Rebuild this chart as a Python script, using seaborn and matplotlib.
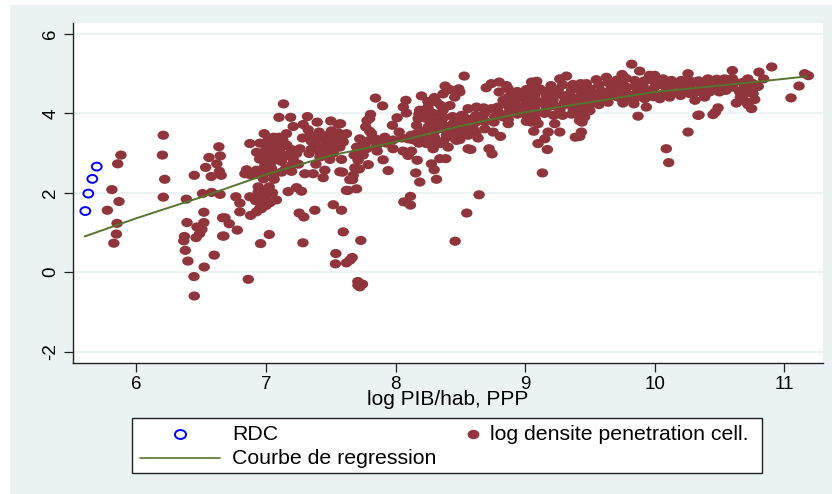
import matplotlib
matplotlib.use('Agg')
import matplotlib.pyplot as plt
import pandas as pd
import seaborn as sns
from matplotlib.lines import Line2D
from matplotlib.patches import Rectangle
from matplotlib.path import Path
from matplotlib.transforms import Affine2D

# points, (log PIB/hab, log densite)
rdc_points = [(5.605, 1.54), (5.628, 1.98), (5.659, 2.35), (5.693, 2.66)]

cell_low = [
    (5.88, 2.95), (5.855, 2.73), (5.81, 2.08), (5.865, 1.78), (5.775, 1.56), (5.85, 1.23), (5.845, 0.96),
    (5.825, 0.73), (6.207, 3.45), (6.2, 2.95), (6.218, 2.34), (6.207, 1.89), (6.385, 1.84), (6.446, 2.44),
    (6.52, 1.51), (6.39, 1.25), (6.37, 0.9), (6.365, 0.79), (6.377, 0.55), (6.397, 0.28), (6.523, 0.13),
    (6.60, 0.43), (6.444, -0.11), (6.446, -0.6), (6.52, 1.25), (6.467, 1.14), (6.505, 1.08), (6.487, 0.97),
    (6.46, 0.87), (6.665, 0.91), (6.665, 1.37), (6.51, 1.98), (6.58, 2.01), (6.645, 1.96), (6.577, 2.41),
    (6.534, 2.64), (6.56, 2.89), (6.62, 2.73), (6.636, 3.16), (6.647, 2.93), (6.64, 2.54), (6.654, 2.44),
    (6.683, 1.37), (6.716, 1.22), (6.778, 1.06), (6.675, 0.91), (7.025, 0.95), (6.958, 0.72), (7.285, 0.74),
    (6.863, -0.18), (7.256, 1.49), (7.292, 1.39), (7.377, 1.56), (7.519, 1.7), (7.583, 1.56), (7.596, 1.015),
    (7.732, 0.8), (7.539, 0.47), (7.536, 0.21), (7.621, 0.235), (7.647, 0.30), (7.665, 0.37), (7.709, -0.235),
    (7.745, -0.30), (7.724, -0.37), (7.71, -0.33), (6.798, 1.52), (6.881, 1.43), (6.927, 1.52), (6.965, 1.6),
]

cell_mid = [
    (7.135, 4.24), (7.10, 3.90), (7.19, 3.90), (7.32, 3.92), (7.395, 3.78), (7.50, 3.81), (7.557, 3.73),
    (7.21, 3.67), (7.287, 3.72), (7.325, 3.59), (6.986, 3.49), (7.158, 3.49), (7.06, 3.40), (6.875, 3.24),
    (6.953, 3.25), (7.004, 3.28), (7.068, 3.28), (7.13, 3.32), (7.282, 3.38), (7.41, 3.53), (7.505, 3.56),
    (7.557, 3.51), (7.338, 3.45), (7.39, 3.32), (7.467, 3.32), (7.53, 3.32), (7.596, 3.28), (7.377, 3.2),
    (7.441, 3.15), (7.505, 3.15), (7.57, 3.15), (6.927, 3.02), (6.99, 3.03), (7.055, 3.11), (7.12, 3.15),
    (7.197, 3.09), (7.261, 3.11), (7.08, 2.94), (7.158, 2.94), (7.236, 2.99), (7.333, 2.99), (6.978, 2.82),
    (7.043, 2.78), (7.12, 2.79), (7.21, 2.84), (7.416, 2.9), (7.493, 2.84), (7.583, 2.84), (6.85, 2.58),
    (6.927, 2.57), (6.99, 2.67), (7.043, 2.61), (6.837, 2.48), (6.914, 2.46), (6.978, 2.48), (7.12, 2.52),
    (7.197, 2.54), (7.385, 2.72), (7.30, 2.48), (7.364, 2.48), (7.454, 2.57), (7.441, 2.38), (7.57, 2.53),
    (7.063, 2.34), (6.94, 2.15), (7.025, 2.15), (7.004, 2.06), (7.171, 2.03), (7.236, 2.13), (7.274, 2.04),
    (7.621, 2.06), (7.647, 2.33), (6.767, 1.9), (6.798, 1.74), (6.875, 1.9), (6.94, 1.9), (6.978, 1.81),
    (7.03, 1.75), (6.965, 1.69), (7.845, 4.385), (7.90, 4.19), (7.807, 3.975), (7.80, 3.87), (7.77, 3.66),
    (7.814, 3.5), (7.724, 3.36), (7.80, 3.32), (7.621, 3.49), (7.59, 3.32), (7.575, 3.74), (7.917, 3.4),
    (7.866, 3.24), (7.776, 3.11), (7.724, 3.03), (7.858, 3.05), (7.98, 3.11), (7.711, 2.82), (7.789, 2.71),
    (7.686, 2.63), (7.904, 2.83), (7.943, 2.56), (7.673, 2.44), (7.668, 2.33), (7.634, 2.06), (7.699, 2.1),
    (7.59, 2.52),
    (7.0, 3.1), (7.05, 3.0), (7.1, 3.05), (7.16, 3.2), (7.02, 3.38), (7.1, 3.4), (7.35, 3.3), (7.35, 3.1),
    (7.42, 3.4), (7.48, 3.45), (7.55, 3.4), (7.45, 3.0), (7.52, 3.0), (7.42, 3.0), (6.88, 2.45), (6.95, 2.52),
    (7.0, 2.55), (7.06, 2.45), (6.98, 2.35), (6.98, 2.05), (6.94, 2.02), (7.0, 1.9), (7.05, 2.0), (6.92, 1.8),
    (7.0, 1.68), (6.95, 1.6), (7.08, 1.82), (7.25, 2.72), (7.2, 2.7), (7.15, 2.6), (7.02, 2.9), (6.95, 2.85),
]

cell_upper = [
    (8.08, 4.33), (8.06, 4.16), (8.084, 4.01), (8.012, 3.89), (7.976, 3.70), (8.028, 3.53), (8.097, 3.36),
    (8.059, 3.05), (8.097, 2.94), (8.123, 3.05), (8.167, 2.82), (8.156, 2.5), (8.187, 2.27), (8.316, 2.34),
    (8.277, 2.73), (8.298, 2.58), (8.342, 2.86), (8.20, 4.44), (8.383, 4.69), (8.488, 4.62), (8.457, 4.41),
    (8.367, 4.49), (8.316, 4.29), (8.25, 4.16), (8.187, 4.08), (8.367, 4.08), (8.30, 3.99), (8.174, 3.87),
    (8.239, 3.87), (8.162, 3.7), (8.354, 3.82), (8.509, 3.95), (8.444, 3.74), (8.534, 3.78), (8.162, 3.49),
    (8.252, 3.66), (8.329, 3.61), (8.393, 3.57), (8.483, 3.61), (8.547, 3.61), (8.149, 3.32), (8.226, 3.40),
    (8.30, 3.40), (8.393, 3.45), (8.47, 3.32), (8.239, 3.24), (8.29, 3.11), (8.342, 3.24), (8.406, 3.15),
    (8.56, 3.11), (8.388, 2.86), (8.115, 1.91), (8.064, 1.77), (8.115, 1.69), (8.46, 0.78), (8.55, 1.49),
    (8.645, 1.95),
    (8.22, 3.55), (8.22, 4.0), (8.3, 3.78), (8.3, 3.55), (8.3, 3.25), (8.37, 3.9), (8.37, 3.7), (8.37, 3.3),
    (8.44, 3.92), (8.44, 3.55), (8.44, 3.4), (8.5, 3.8), (8.5, 3.5), (8.56, 3.85), (8.56, 3.45), (8.62, 3.95),
    (8.62, 3.78), (8.62, 3.5), (8.69, 3.8), (8.69, 4.02), (8.76, 3.78), (8.8, 4.0), (8.18, 3.25), (8.18, 3.98),
    (8.12, 3.35), (8.12, 3.45), (8.05, 3.38), (7.98, 3.33), (7.93, 3.25), (7.85, 3.35), (7.85, 3.15),
    (7.75, 3.25), (7.7, 3.15), (7.68, 2.95), (7.72, 2.6), (7.75, 2.95), (7.8, 3.55), (7.78, 3.82), (8.25, 4.3),
    (8.3, 4.4), (8.42, 4.6), (8.42, 4.2), (8.35, 4.2), (8.27, 4.03),
]

cell_band = [
    (8.53, 4.94), (8.496, 4.54), (8.70, 4.645), (8.74, 4.75), (8.80, 4.79), (8.856, 4.70), (8.80, 4.54),
    (8.895, 4.49), (9.05, 4.79), (9.09, 4.81), (9.32, 4.94), (9.268, 4.87), (9.20, 4.70), (9.37, 4.73),
    (9.036, 4.62), (9.113, 4.62), (9.255, 4.58), (9.435, 4.62), (8.998, 4.45), (9.075, 4.45), (9.165, 4.45),
    (9.345, 4.49), (9.473, 4.45), (8.83, 4.33), (8.92, 4.29), (9.01, 4.29), (9.113, 4.29), (9.216, 4.33),
    (9.306, 4.29), (9.409, 4.33), (8.79, 4.16), (8.882, 4.12), (8.96, 4.08), (9.075, 4.16), (9.165, 4.12),
    (9.268, 4.08), (9.37, 4.12), (9.46, 4.12), (8.56, 4.12), (8.625, 4.16), (8.68, 4.14), (8.74, 4.12),
    (8.52, 3.95), (8.6, 3.87), (8.676, 3.95), (8.766, 3.91), (8.87, 3.74), (8.83, 3.91), (9.05, 3.78),
    (9.1, 3.74), (9.229, 3.74), (9.42, 3.82), (8.6, 3.61), (8.689, 3.61), (8.753, 3.53), (8.81, 3.42),
    (9.067, 3.55), (9.178, 3.53), (9.268, 3.53), (9.435, 3.53), (9.388, 3.40), (8.637, 3.38), (8.496, 3.34),
    (9.152, 3.36), (9.1, 3.24), (9.172, 3.09), (8.581, 3.09), (8.722, 3.11), (8.745, 2.98), (9.134, 2.5),
    (8.87, 4.62), (8.87, 4.4), (8.87, 4.2), (8.87, 4.0), (8.87, 3.85), (8.94, 4.55), (8.94, 4.38), (8.94, 4.18),
    (8.94, 3.98), (9.01, 4.6), (9.01, 4.4), (9.01, 4.14), (9.01, 3.95), (9.01, 3.8), (9.08, 4.68), (9.08, 4.3),
    (9.08, 4.0), (9.08, 3.85), (9.15, 4.55), (9.15, 4.25), (9.15, 4.0), (9.22, 4.6), (9.22, 4.45), (9.22, 4.2),
    (9.22, 3.95), (9.29, 4.72), (9.29, 4.45), (9.29, 4.2), (9.29, 3.95), (9.36, 4.6), (9.36, 4.4), (9.36, 4.22),
    (9.36, 3.98), (9.43, 4.75), (9.43, 4.42), (9.43, 4.22), (9.43, 4.0), (9.43, 3.9),
]

cell_high = [
    (9.823, 5.24), (9.885, 5.065), (9.749, 4.98), (9.628, 4.91), (9.55, 4.85), (9.473, 4.75), (9.962, 4.96),
    (10.0, 4.96), (10.258, 5.0), (10.065, 4.87), (10.13, 4.83), (10.206, 4.83), (9.743, 4.79), (9.846, 4.83),
    (9.666, 4.66), (9.782, 4.66), (9.91, 4.7), (10.014, 4.7), (10.31, 4.79), (9.435, 4.54), (9.512, 4.54),
    (9.589, 4.56), (9.705, 4.54), (9.872, 4.54), (9.975, 4.54), (10.09, 4.56), (10.245, 4.62), (10.322, 4.54),
    (9.448, 4.33), (9.525, 4.33), (9.628, 4.39), (9.744, 4.37), (9.846, 4.37), (9.924, 4.37), (10.04, 4.37),
    (10.116, 4.41), (10.2, 4.45), (10.312, 4.33), (9.756, 4.26), (9.84, 4.24), (9.936, 4.16), (9.872, 3.93),
    (10.335, 3.95), (9.486, 4.16), (9.5, 4.07), (9.46, 3.91), (9.44, 3.78), (9.422, 3.42), (10.258, 3.53),
    (10.09, 3.11), (10.109, 2.76), (10.904, 5.17), (10.6, 5.08), (10.806, 5.04), (11.158, 5.0), (11.187, 4.95),
    (10.72, 4.87), (10.842, 4.87), (10.54, 4.87), (10.412, 4.87), (10.618, 4.79), (10.76, 4.75), (10.477, 4.7),
    (10.36, 4.7), (11.115, 4.69), (10.8, 4.68), (10.708, 4.66), (10.54, 4.66), (10.425, 4.54), (10.657, 4.54),
    (10.734, 4.54), (10.5, 4.54), (11.053, 4.39), (10.683, 4.45), (10.76, 4.5), (10.387, 4.41), (10.773, 4.35),
    (10.631, 4.26), (10.662, 4.41), (10.749, 4.12), (10.49, 4.14), (10.469, 4.03), (10.451, 3.97), (10.343, 3.96),
    (9.5, 4.62), (9.5, 4.45), (9.5, 4.22), (9.57, 4.72), (9.57, 4.42), (9.57, 4.22), (9.64, 4.78), (9.64, 4.52),
    (9.64, 4.28), (9.71, 4.84), (9.71, 4.66), (9.71, 4.42), (9.78, 4.88), (9.78, 4.52), (9.78, 4.38), (9.85, 4.68),
    (9.85, 4.48), (9.92, 4.82), (9.92, 4.6), (9.92, 4.46), (9.99, 4.82), (9.99, 4.62), (9.99, 4.42), (10.06, 4.72),
    (10.06, 4.48), (10.13, 4.7), (10.13, 4.52), (10.2, 4.7), (10.2, 4.56), (10.27, 4.82), (10.27, 4.68),
    (10.27, 4.5), (10.34, 4.82), (10.34, 4.56), (10.41, 4.72), (10.41, 4.55), (10.48, 4.86), (10.48, 4.6),
    (10.55, 4.78), (10.55, 4.58), (10.6, 4.88), (10.6, 4.66), (10.68, 4.78), (10.68, 4.6), (10.7, 4.3), (10.72, 4.22),
]

curve_x = [5.6, 6.0, 6.5, 7.0, 7.5, 8.0, 8.5, 9.0, 9.5, 10.0, 10.5, 11.0, 11.17]
curve_y = [0.9, 1.36, 1.89, 2.46, 2.94, 3.28, 3.68, 4.03, 4.28, 4.54, 4.70, 4.87, 4.93]

y_ticks = [-2, 0, 2, 4, 6]
x_ticks = [6, 7, 8, 9, 10, 11]

W, H = 832, 494
BG = '#eaf2f3'
MAROON = '#90353b'
BLUE = '#0000ff'
GREEN = '#55752f'
INK = '#222222'
FONT = 'Liberation Sans'


def px_rect(x0, y0, x1, y1):
    # picture pixels (y down) to figure fractions
    return x0 / W, 1 - y1 / H, (x1 - x0) / W, (y1 - y0) / H


def main():
    sns.set_theme(style='white')
    plt.rcParams['font.family'] = [FONT, 'DejaVu Sans']
    plt.rcParams['axes.unicode_minus'] = False
    fig = plt.figure(figsize=(W / 100, H / 100), dpi=100, facecolor='white')
    fig.patches.append(Rectangle((10 / W, 0), 1, 1 - 5 / H, transform=fig.transFigure, color=BG, lw=0, zorder=-5))

    ax = fig.add_axes(px_rect(72.5, 23, 823, 362.7))
    ax.set_facecolor('white')
    ellipse = Path.unit_circle().transformed(Affine2D().scale(1, 0.8))

    rdc = pd.DataFrame(rdc_points, columns=['x', 'y'])
    cell = pd.DataFrame(cell_low + cell_mid + cell_upper + cell_band + cell_high, columns=['x', 'y'])
    sns.scatterplot(data=cell, x='x', y='y', marker=ellipse, s=68, color=MAROON, edgecolor='none', linewidth=0,
                    ax=ax, zorder=3, legend=False)
    sns.scatterplot(data=rdc, x='x', y='y', marker=ellipse, s=50, color='none', edgecolor=BLUE, linewidth=1.4,
                    ax=ax, zorder=3, legend=False)
    sns.lineplot(x=curve_x, y=curve_y, color=GREEN, linewidth=1.4, ax=ax, zorder=4, legend=False)

    ax.set_xlim(5.506, 11.30)
    ax.set_ylim(-2.28, 6.277)
    ax.set_xticks(x_ticks)
    ax.set_yticks(y_ticks)
    ax.grid(axis='y', color=BG, linewidth=1.3)
    ax.grid(axis='x', visible=False)
    ax.set_axisbelow(True)
    for side in ['top', 'right']:
        ax.spines[side].set_visible(False)
    for side in ['left', 'bottom']:
        ax.spines[side].set_color(INK)
        ax.spines[side].set_linewidth(1.0)
    ax.tick_params(axis='both', length=6.5, width=0.9, color=INK, labelcolor='black', labelsize=13.5, pad=3,
                   left=True, bottom=True)
    for lab in ax.get_yticklabels():
        lab.set_rotation(90)
        lab.set_va('center')
    ax.set_xlabel('log PIB/hab, PPP', fontsize=15, color='black', labelpad=-2)
    ax.set_ylabel('')

    # legend box drawn by hand, the two columns have different key widths
    fig.add_artist(Rectangle((131.7 / W, 1 - 473 / H), (762 - 131.7) / W, (473 - 417.7) / H,
                             transform=fig.transFigure, facecolor='white', edgecolor=INK, linewidth=1.0))
    fig.add_artist(Line2D([180 / W], [1 - 434 / H], transform=fig.transFigure, marker=ellipse, markersize=8,
                          markerfacecolor='none', markeredgecolor=BLUE, markeredgewidth=1.4, linestyle='none'))
    fig.add_artist(Line2D([473 / W], [1 - 434 / H], transform=fig.transFigure, marker=ellipse, markersize=8.5,
                          markerfacecolor=MAROON, markeredgecolor=MAROON, markeredgewidth=0, linestyle='none'))
    fig.add_artist(Line2D([140 / W, 220.5 / W], [1 - 457.5 / H] * 2, transform=fig.transFigure, color=GREEN,
                          linewidth=1.2))
    fig.text(232 / W, 1 - 434 / H, 'RDC', fontsize=15.3, va='center', color='black')
    fig.text(232 / W, 1 - 458 / H, 'Courbe de regression', fontsize=15.3, va='center', color='black')
    fig.text(490 / W, 1 - 434 / H, 'log densite penetration cell.', fontsize=15.3, va='center', color='black')

    fig.savefig('out.png', dpi=100, facecolor='white')
    plt.close('all')


if __name__ == '__main__':
    main()
